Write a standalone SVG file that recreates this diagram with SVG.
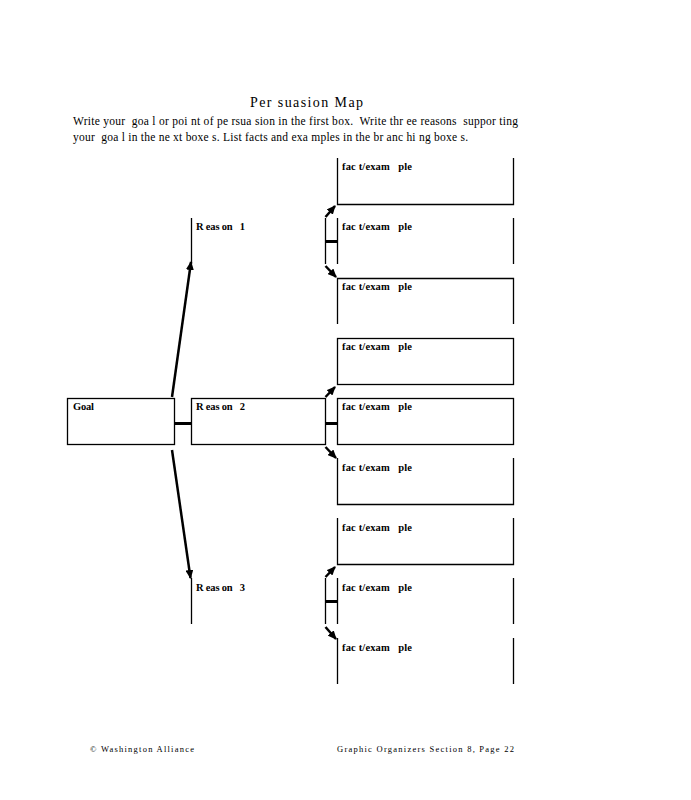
<svg xmlns="http://www.w3.org/2000/svg" width="691" height="800" viewBox="0 0 691 800" xml:space="preserve">
<style>
.b{fill:none;stroke:#000;stroke-width:1.3}
text{white-space:pre}
.t{font-family:"Liberation Serif","Times New Roman",serif;fill:#000}
.lbl{font-family:"Liberation Serif","Times New Roman",serif;font-weight:bold;font-size:10.5px;fill:#000}
.c{stroke:#000;stroke-width:3;fill:none}
.a{stroke:#000;stroke-width:2.5;fill:none;marker-end:url(#ah)}
</style>
<defs>
<marker id="ah" markerUnits="userSpaceOnUse" markerWidth="9" markerHeight="8" refX="8" refY="4" orient="auto">
<path d="M0,0 L9,4 L0,8 Z" fill="#000"/>
</marker>
</defs>
<rect width="691" height="800" fill="#fff"/>
<g id="header">
<text class="t" x="250" y="107" font-size="14" textLength="113">Per suasion Map</text>
<text class="t" x="73" y="125" font-size="11.5" textLength="445">Write your  goa l or poi nt of pe rsua sion in the first box.  Write thr ee reasons  suppor ting</text>
<text class="t" x="73" y="141" font-size="11.5" textLength="395">your  goa l in the ne xt boxe s. List facts and exa mples in the br anc hi ng boxe s.</text>
</g>
<g id="goal">
<rect class="b" x="67.5" y="398.5" width="107" height="46"/>
<text class="lbl" x="73" y="410" textLength="21">Goal</text>
</g>
<g id="reason1">
<path class="b" d="M191.5,218 V264"/>
<text class="lbl" x="196" y="230" textLength="49">R eas on   1</text>
</g>
<g id="reason2">
<rect class="b" x="191.5" y="398.5" width="134" height="46"/>
<text class="lbl" x="196" y="410" textLength="49">R eas on   2</text>
</g>
<g id="reason3">
<path class="b" d="M191.5,578 V624"/>
<text class="lbl" x="196" y="591" textLength="49">R eas on   3</text>
</g>
<g id="fact1"><path class="b" d="M337.5,158 V204.5 H513.5 V158"/><text class="lbl" x="342" y="170" textLength="70">fac t/exam   ple</text></g>
<g id="fact2"><path class="b" d="M337.5,218 V264 M513.5,218 V264"/><text class="lbl" x="342" y="230" textLength="70">fac t/exam   ple</text></g>
<g id="fact3"><path class="b" d="M337.5,324 V278.5 H513.5 V324"/><text class="lbl" x="342" y="290" textLength="70">fac t/exam   ple</text></g>
<g id="fact4"><rect class="b" x="337.5" y="338.5" width="176" height="46"/><text class="lbl" x="342" y="350" textLength="70">fac t/exam   ple</text></g>
<g id="fact5"><rect class="b" x="337.5" y="398.5" width="176" height="46"/><text class="lbl" x="342" y="410" textLength="70">fac t/exam   ple</text></g>
<g id="fact6"><path class="b" d="M337.5,458 V504.5 H513.5 V458"/><text class="lbl" x="342" y="471" textLength="70">fac t/exam   ple</text></g>
<g id="fact7"><path class="b" d="M337.5,518 V564.5 H513.5 V518"/><text class="lbl" x="342" y="531" textLength="70">fac t/exam   ple</text></g>
<g id="fact8"><path class="b" d="M337.5,578 V624 M513.5,578 V624"/><text class="lbl" x="342" y="591" textLength="70">fac t/exam   ple</text></g>
<g id="fact9"><path class="b" d="M337.5,638 V684 M513.5,638 V684"/><text class="lbl" x="342" y="651" textLength="70">fac t/exam   ple</text></g>
<g id="connectors">
<path class="b" d="M325.5,218 V264 M325.5,578 V624"/>
<path class="c" d="M174,423.5 H191 M325,241.5 H337 M325,423.5 H337 M325,601.5 H337"/>
<path class="a" d="M172,397 L191,262"/>
<path class="a" d="M172,450 L190.5,578"/>
<path class="a" d="M325.5,217 L335,206"/>
<path class="a" d="M325.5,266 L336,277"/>
<path class="a" d="M325.5,397 L335,387"/>
<path class="a" d="M325.5,447 L336,458"/>
<path class="a" d="M325.5,577 L335,567"/>
<path class="a" d="M325.5,627 L336,639"/>
</g>
<g id="footer">
<text class="t" x="90" y="752" font-size="8.5" textLength="104">© Washington Alliance</text>
<text class="t" x="337" y="752" font-size="8.5" textLength="177">Graphic Organizers Section 8, Page 22</text>
</g>
</svg>
